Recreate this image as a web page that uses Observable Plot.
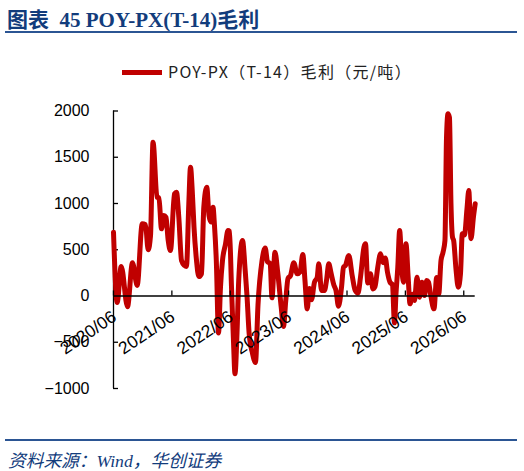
<!DOCTYPE html>
<html><head><meta charset="utf-8">
<script src="https://cdn.jsdelivr.net/npm/d3@7"></script>
<script src="https://cdn.jsdelivr.net/npm/@observablehq/plot@0.6"></script>
<style>
body{margin:0;background:#fff;}
#wrap{position:relative;width:524px;height:471px;overflow:hidden;font-family:"Liberation Sans",Arial,sans-serif;}
#title{position:absolute;left:7px;top:3px;font:bold 21px "Liberation Serif","Noto Sans CJK SC",serif;color:#123C7C;white-space:pre;}
#tline{position:absolute;left:5px;top:31px;width:512px;height:2px;background:#2B5593;}
#legend{position:absolute;left:122px;top:59px;height:22px;white-space:nowrap;font:16px "Noto Sans CJK SC",sans-serif;letter-spacing:1.3px;color:#222;}
#legend .sw{display:inline-block;width:40px;height:5px;background:#C00000;vertical-align:middle;margin-right:6px;position:relative;top:-1px;}
#chart{position:absolute;left:0;top:0;}
#bline{position:absolute;left:5px;top:439px;width:512px;height:2px;background:#2B5593;}
#source{position:absolute;left:8px;top:446px;font:italic 17.7px "Liberation Serif","Noto Sans CJK SC",serif;color:#123C7C;white-space:nowrap;}
</style>
</head><body>
<div id="wrap">
  <div id="title"></div>
  <div id="tline"></div>
  <div id="legend"><span class="sw"></span><span id="legtext"></span></div>
  <div id="chart"></div>
  <div id="bline"></div>
  <div id="source"></div>
</div>
<script>
const titleText = "图表  45 POY-PX(T-14)毛利";
const seriesName = "POY-PX（T-14）毛利（元/吨）";
const sourceText = "资料来源：Wind，华创证券";

// time as decimal years
const years = [2020.417,2020.480,2020.549,2020.657,2020.742,2020.823,2020.909,2020.965,2021.011,2021.051,
2021.094,2021.162,2021.196,2021.239,2021.279,2021.316,2021.354,2021.393,2021.462,2021.496,
2021.536,2021.582,2021.633,2021.667,2021.707,2021.736,2021.765,2021.796,2021.839,2021.878,
2021.924,2021.964,2022.015,2022.053,2022.087,2022.121,2022.147,2022.178,2022.216,2022.250,
2022.284,2022.336,2022.378,2022.404,2022.438,2022.473,2022.498,2022.533,2022.562,2022.627,
2022.673,2022.704,2022.741,2022.798,2022.849,2022.892,2022.961,2023.016,2023.055,2023.101,
2023.132,2023.183,2023.231,2023.290,2023.329,2023.368,2023.406,2023.449,2023.505,2023.564,
2023.612,2023.660,2023.697,2023.735,2023.774,2023.809,2023.860,2023.906,2023.934,2023.980,
2024.031,2024.066,2024.105,2024.143,2024.191,2024.228,2024.271,2024.323,2024.357,2024.391,
2024.448,2024.506,2024.557,2024.605,2024.648,2024.708,2024.734,2024.773,2024.819,2024.862,
2024.896,2024.944,2024.991,2025.037,2025.073,2025.110,2025.153,2025.196,2025.230,2025.256,
2025.287,2025.319,2025.355,2025.384,2025.427,2025.465,2025.496,2025.539,2025.573,2025.616,
2025.659,2025.701,2025.744,2025.782,2025.813,2025.847,2025.907,2025.953,2025.989,2026.027,
2026.061,2026.095,2026.121,2026.147,2026.172,2026.198,2026.224,2026.244,2026.284,2026.323,
2026.361,2026.392,2026.429,2026.472,2026.503,2026.541,2026.584,2026.613];

const margin = [690,-70,320,-115,360,114,780,770,500,650,
1663,1068,1060,726,870,850,600,492,1105,1122,
850,384,330,320,997,1393,1150,744,384,210,
240,960,1176,870,800,960,760,384,-400,100,
384,564,708,700,100,-500,-841,-400,168,600,
276,0,-409,-620,-720,-100,380,520,370,350,
-20,474,250,-121,-330,-49,190,220,360,240,
260,450,168,-140,80,-40,150,200,350,59,
60,168,348,250,120,60,-110,95,311,330,
438,220,60,30,203,530,564,140,240,77,
100,311,456,360,410,258,150,120,-290,20,
311,708,311,150,564,200,-85,20,-49,203,
-13,150,5,168,150,23,-139,200,23,384,
470,600,1700,1970,1930,1000,636,600,290,95,
240,672,660,940,1141,620,860,997];

const yTicks = [2000,1500,1000,500,0,-500,-1000];
const yTickLabels = ["2000","1500","1000","500","0","−500","−1000"];
const xTicks = [2020.417,2021.417,2022.417,2023.417,2024.417,2025.417,2026.417];
const xTickLabels = ["2020/06","2021/06","2022/06","2023/06","2024/06","2025/06","2026/06"];

document.getElementById("title").textContent = titleText;
document.getElementById("legtext").textContent = seriesName;
document.getElementById("source").textContent = sourceText;

const data = years.map((t,i)=>({t, v: margin[i]}));
const x0 = years[0];

const chart = Plot.plot({
  width: 524, height: 400,
  marginLeft: 113, marginRight: 49.3, marginTop: 110.5, marginBottom: 12,
  x: {domain: [years[0], years[years.length-1]], axis: null},
  y: {domain: [-1000, 2000], axis: null},
  style: {background: "transparent", fontFamily: "'Liberation Sans', Arial, sans-serif", overflow: "visible", color: "#000"},
  marks: [
    Plot.ruleX([x0], {y1: -1000, y2: 2000, stroke: "#000", strokeWidth: 1.3}),
    Plot.ruleY(yTicks, {x1: x0, x2: x0, insetRight: -5, stroke: "#000", strokeWidth: 1.3}),
    Plot.text(yTicks, {x: x0, y: d=>d, text: (d,i)=>yTickLabels[i], textAnchor: "end", dx: -24, fontSize: 16, fill: "#000"}),
    Plot.line(data, {x: "t", y: "v", stroke: "#C00000", strokeWidth: 5, curve: "monotone-x", strokeLinejoin: "round", strokeLinecap: "round"}),
    Plot.ruleY([0], {stroke: "#000", strokeWidth: 1.3}),
    Plot.ruleX(xTicks, {x: d=>d, y1: 0, y2: 0, insetBottom: 5, stroke: "#000", strokeWidth: 1.3}),
    Plot.text(xTicks, {x: d=>d, y: 0, text: (d,i)=>xTickLabels[i], rotate: -34, textAnchor: "end", dx: 1, dy: 19, fontSize: 17.5, fill: "#000"})
  ]
});
document.getElementById("chart").appendChild(chart);
</script>
</body></html>
